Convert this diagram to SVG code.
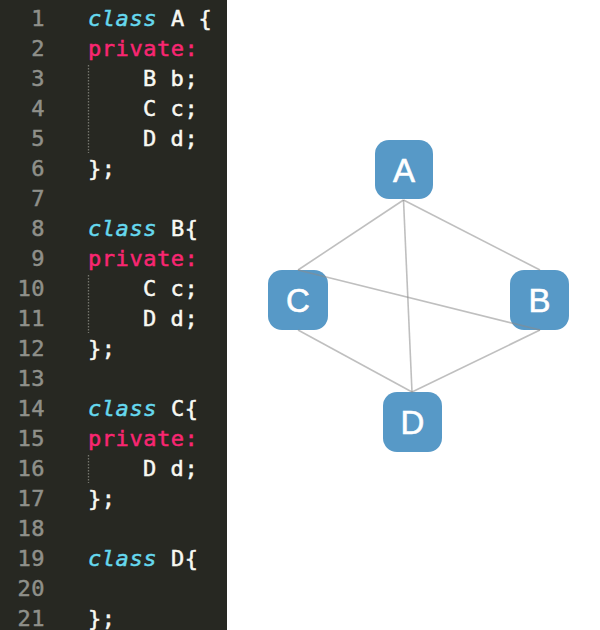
<svg xmlns="http://www.w3.org/2000/svg" width="600" height="630" viewBox="0 0 600 630">
<style>
.code{font-family:"DejaVu Sans Mono","Liberation Mono",monospace;font-size:22px;letter-spacing:0.55px;stroke-width:0.5px}
.ln{fill:#8f908a;stroke:#8f908a;text-anchor:end}
.kw{fill:#66d9ef;stroke:#66d9ef;font-style:italic}
.pv{fill:#f92672;stroke:#f92672}
.tx{fill:#f8f8f2;stroke:#f8f8f2}
.guide{stroke:#74756e;stroke-width:1.3;stroke-dasharray:1.5 1.5}
.node rect{fill:#5799c7}
.node text{font-family:"Liberation Sans",Arial,sans-serif;font-size:33px;fill:#ffffff;stroke:#ffffff;stroke-width:0.6;text-anchor:middle}
.edge{stroke:#8a8a8a;stroke-opacity:0.55;stroke-width:1.6;fill:none}
</style>
<rect x="0" y="0" width="600" height="630" fill="#ffffff"/>
<g id="code-panel">
<rect x="0" y="0" width="227" height="630" fill="#272822"/>
<g class="code">
<text class="ln" x="45" y="26">1</text>
<text class="ln" x="45" y="56">2</text>
<text class="ln" x="45" y="86">3</text>
<text class="ln" x="45" y="116">4</text>
<text class="ln" x="45" y="146">5</text>
<text class="ln" x="45" y="176">6</text>
<text class="ln" x="45" y="206">7</text>
<text class="ln" x="45" y="236">8</text>
<text class="ln" x="45" y="266">9</text>
<text class="ln" x="45" y="296">10</text>
<text class="ln" x="45" y="326">11</text>
<text class="ln" x="45" y="356">12</text>
<text class="ln" x="45" y="386">13</text>
<text class="ln" x="45" y="416">14</text>
<text class="ln" x="45" y="446">15</text>
<text class="ln" x="45" y="476">16</text>
<text class="ln" x="45" y="506">17</text>
<text class="ln" x="45" y="536">18</text>
<text class="ln" x="45" y="566">19</text>
<text class="ln" x="45" y="596">20</text>
<text class="ln" x="45" y="626">21</text>

<text x="88" y="26"><tspan class="kw">class</tspan><tspan class="tx" x="171">A {</tspan></text>
<text class="pv" x="88" y="56">private:</text>
<text class="tx" x="143" y="86">B b;</text>
<text class="tx" x="143" y="116">C c;</text>
<text class="tx" x="143" y="146">D d;</text>
<text class="tx" x="88" y="176">};</text>

<text x="88" y="236"><tspan class="kw">class</tspan><tspan class="tx" x="171">B{</tspan></text>
<text class="pv" x="88" y="266">private:</text>
<text class="tx" x="143" y="296">C c;</text>
<text class="tx" x="143" y="326">D d;</text>
<text class="tx" x="88" y="356">};</text>

<text x="88" y="416"><tspan class="kw">class</tspan><tspan class="tx" x="171">C{</tspan></text>
<text class="pv" x="88" y="446">private:</text>
<text class="tx" x="143" y="476">D d;</text>
<text class="tx" x="88" y="506">};</text>

<text x="88" y="566"><tspan class="kw">class</tspan><tspan class="tx" x="171">D{</tspan></text>
<text class="tx" x="88" y="626">};</text>
</g>
<line class="guide" x1="88.5" y1="65" x2="88.5" y2="153"/>
<line class="guide" x1="88.5" y1="275" x2="88.5" y2="333"/>
<line class="guide" x1="88.5" y1="455" x2="88.5" y2="483"/>
</g>

<g id="node-A" class="node"><rect x="375" y="140" width="58" height="59" rx="14"/><text x="404" y="182">A</text></g>
<g id="node-C" class="node"><rect x="268" y="270" width="60" height="60" rx="14"/><text x="298" y="312">C</text></g>
<g id="node-B" class="node"><rect x="510" y="270" width="59" height="60" rx="14"/><text x="539.5" y="312">B</text></g>
<g id="node-D" class="node"><rect x="383" y="392" width="59" height="60" rx="14"/><text x="412.5" y="434">D</text></g>

<g id="connectors">
<line class="edge" x1="403.5" y1="200" x2="298" y2="270"/>
<line class="edge" x1="403.5" y1="200" x2="540" y2="270"/>
<line class="edge" x1="403.5" y1="200" x2="412" y2="392"/>
<line class="edge" x1="298" y1="270" x2="540" y2="330"/>
<line class="edge" x1="298" y1="330" x2="412" y2="392"/>
<line class="edge" x1="540" y1="330" x2="412" y2="392"/>
</g>
</svg>
